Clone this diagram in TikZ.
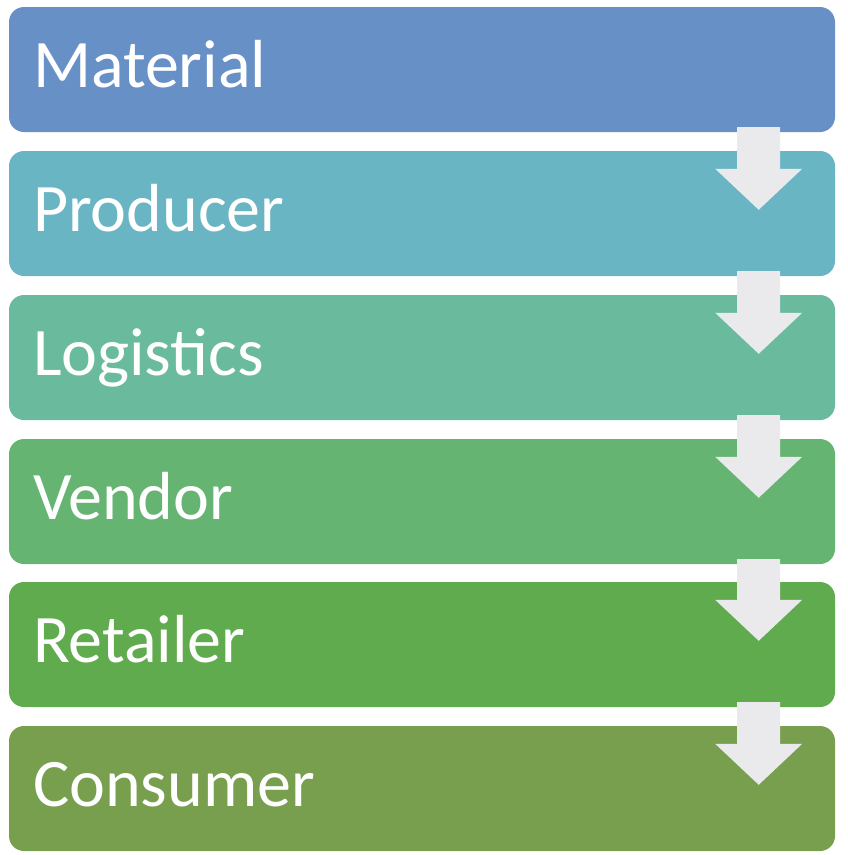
\documentclass[tikz,border=0pt]{standalone}
\usepackage{fontspec}
\setmainfont{Carlito}
\usetikzlibrary{calc}

\definecolor{cMaterial}{HTML}{6690C6}
\definecolor{cProducer}{HTML}{69B5C3}
\definecolor{cLogistics}{HTML}{6ABB9D}
\definecolor{cVendor}{HTML}{66B472}
\definecolor{cRetailer}{HTML}{61AB4F}
\definecolor{cConsumer}{HTML}{789F4E}
\definecolor{cArrow}{HTML}{EAEAEC}

\tikzset{
  stage/.style={rectangle, rounded corners=15pt, fill=#1, text=white,
    minimum width=826pt, minimum height=125pt, text width=778pt, align=left,
    inner xsep=24pt, inner ysep=0pt, text height=80pt, text depth=45pt,
    font=\fontsize{68}{72}\selectfont},
  flowarrow/.style={fill=cArrow}
}

\begin{document}
\begin{tikzpicture}
\useasboundingbox (0pt,0pt) rectangle (848pt,-855pt);
				\path (422pt,-69.5pt) node[stage=cMaterial] (n1){Material}
				(422pt,-213.5pt) node[stage=cProducer] (n2){Producer}
				(422pt,-357.5pt) node[stage=cLogistics] (n3){Logistics}
				(422pt,-501.5pt) node[stage=cVendor] (n4){Vendor}
				(422pt,-644.5pt) node[stage=cRetailer] (n5){Retailer}
				(422pt,-788.5pt) node[stage=cConsumer] (n6){Consumer};

				\foreach \a/\b in {n1/n2, n2/n3, n3/n4, n4/n5, n5/n6}
				\fill[flowarrow] ($(\a.south east)+(-98pt,5pt)$) -- ($(\a.south east)+(-55pt,5pt)$)
				-- ($(\b.north east)+(-55pt,-18pt)$) -- ($(\b.north east)+(-33pt,-18pt)$)
				-- ($(\b.north east)+(-76.5pt,-59pt)$)
				-- ($(\b.north east)+(-120pt,-18pt)$) -- ($(\b.north east)+(-98pt,-18pt)$) -- cycle;
			\end{tikzpicture}
\end{document}
